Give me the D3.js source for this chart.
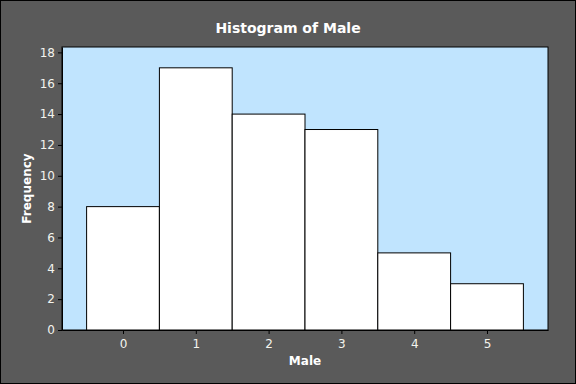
<!DOCTYPE html>
<html>
<head>
<meta charset="utf-8">
<script src="https://cdn.jsdelivr.net/npm/d3@7"></script>
<style>
  html, body { margin: 0; padding: 0; background: #5a5a5a; }
  svg { display: block; }
  text { font-family: "DejaVu Sans", Verdana, sans-serif; }
</style>
</head>
<body>
<div id="chart"></div>
<script>
// ========== data ==========
const categories = [0, 1, 2, 3, 4, 5];
const frequencies = [8, 17, 14, 13, 5, 3];
const yTicks = [0, 2, 4, 6, 8, 10, 12, 14, 16, 18];

const width = 576, height = 384;
const margin = { top: 47, right: 28, bottom: 54, left: 62 };

const svg = d3.select('#chart')
    .append('svg')
    .attr('width', width)
    .attr('height', height);

svg.append('rect')
    .attr('x', 0.5).attr('y', 0.5)
    .attr('width', width - 1).attr('height', height - 1)
    .attr('fill', '#5a5a5a')
    .attr('stroke', '#000');

const x = d3.scaleLinear().domain([-0.838, 5.838]).range([margin.left, width - margin.right]);
const y = d3.scaleLinear().domain([0, 18.35]).range([height - margin.bottom, margin.top]);

const g = svg.append('g');

// plot area
g.append('rect')
    .attr('x', x.range()[0]).attr('y', y.range()[1])
    .attr('width', x.range()[1] - x.range()[0])
    .attr('height', y.range()[0] - y.range()[1])
    .attr('fill', '#c0e4fe')
    .attr('stroke', '#000')
    .attr('stroke-width', 1);

// bars
g.selectAll('rect.bar')
    .data(categories)
    .enter().append('rect')
    .attr('class', 'bar')
    .attr('x', d => x(d - 0.5))
    .attr('y', (d, i) => y(frequencies[i]))
    .attr('width', d => x(d + 0.5) - x(d - 0.5))
    .attr('height', (d, i) => y(0) - y(frequencies[i]))
    .attr('fill', '#fff')
    .attr('stroke', '#000')
    .attr('stroke-width', 1);

// axes
const xAxis = g.append('g')
    .attr('transform', `translate(0,${y(0)})`)
    .call(d3.axisBottom(x).tickValues(categories).tickFormat(d3.format('d'))
        .tickSize(4).tickPadding(5).tickSizeOuter(0));
const yAxis = g.append('g')
    .attr('transform', `translate(${x.range()[0]},0)`)
    .call(d3.axisLeft(y).tickValues(yTicks).tickFormat(d3.format('d'))
        .tickSize(4).tickPadding(3).tickSizeOuter(0));

[xAxis, yAxis].forEach(a => {
    a.select('.domain').attr('stroke', '#000');
    a.selectAll('.tick line').attr('stroke', '#000');
    a.selectAll('.tick text')
        .attr('fill', '#f4f4ee')
        .style('font-size', '12px')
        .style('font-family', '"DejaVu Sans", Verdana, sans-serif');
});

// labels
svg.append('text')
    .attr('x', 288).attr('y', 33)
    .attr('text-anchor', 'middle')
    .attr('fill', '#fff')
    .attr('font-size', '14px')
    .attr('font-weight', 'bold')
    .text('Histogram of Male');

svg.append('text')
    .attr('x', (x.range()[0] + x.range()[1]) / 2).attr('y', 365)
    .attr('text-anchor', 'middle')
    .attr('fill', '#fff')
    .attr('font-size', '12px')
    .attr('font-weight', 'bold')
    .text('Male');

svg.append('text')
    .attr('transform', `translate(31,${(y.range()[0] + y.range()[1]) / 2}) rotate(-90)`)
    .attr('text-anchor', 'middle')
    .attr('fill', '#fff')
    .attr('font-size', '12px')
    .attr('font-weight', 'bold')
    .text('Frequency');
</script>
</body>
</html>
